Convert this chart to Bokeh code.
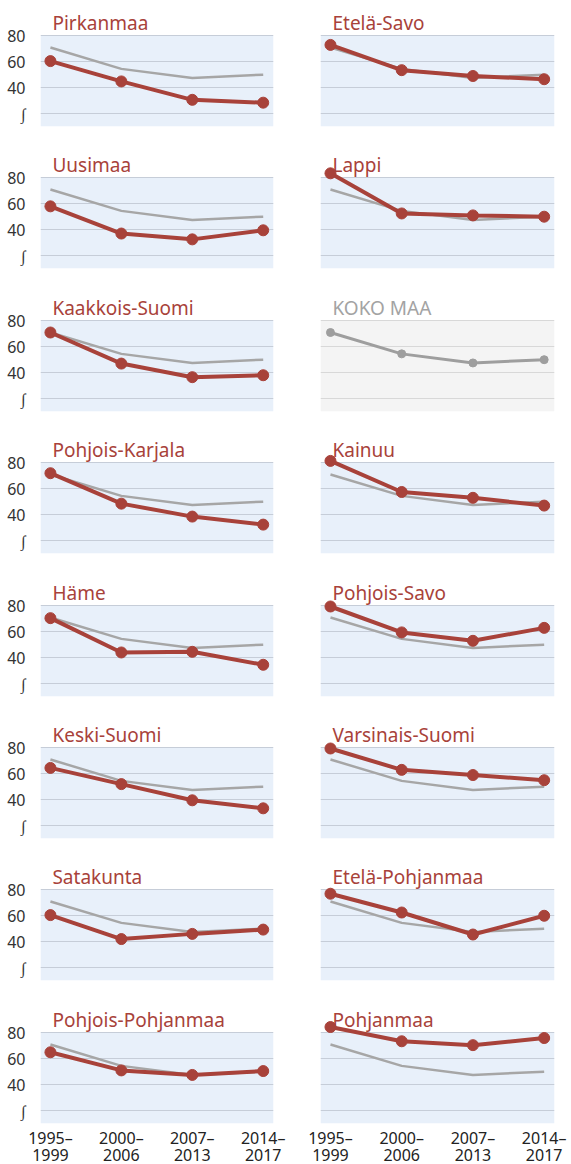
from bokeh.plotting import figure
from bokeh.layouts import gridplot
from bokeh.models import Range1d, FixedTicker, BoxAnnotation, Label
from bokeh.embed import file_html
from bokeh.resources import INLINE

# ---- data ----
periods = ["1995–\n1999", "2000–\n2006", "2007–\n2013", "2014–\n2017"]
koko_maa = [71, 54.5, 47.5, 50]

left_names = ["Pirkanmaa", "Uusimaa", "Kaakkois-Suomi", "Pohjois-Karjala",
              "Häme", "Keski-Suomi", "Satakunta", "Pohjois-Pohjanmaa"]
right_names = ["Etelä-Savo", "Lappi", "KOKO MAA", "Kainuu",
               "Pohjois-Savo", "Varsinais-Suomi", "Etelä-Pohjanmaa", "Pohjanmaa"]

pirkanmaa = [60.5, 44.8, 30.6, 28.4]
uusimaa = [58, 37, 32.5, 39.5]
kaakkois_suomi = [71, 47, 36.5, 38]
pohjois_karjala = [72, 48.5, 38.5, 32.3]
hame = [70.5, 44, 44.5, 34.5]
keski_suomi = [64.5, 52, 39.5, 33.3]
satakunta = [60.5, 42, 46, 49.3]
pohjois_pohjanmaa = [65, 51, 47.5, 50.5]

etela_savo = [73, 53.5, 49, 46.5]
lappi = [83.5, 52.5, 51, 50]
kainuu = [81.5, 57.5, 53, 47]
pohjois_savo = [79.5, 59.5, 53, 63]
varsinais_suomi = [79.5, 63, 59, 55]
etela_pohjanmaa = [77, 62.5, 45.5, 60]
pohjanmaa = [84.5, 73.5, 70.5, 76]

left_vals = [pirkanmaa, uusimaa, kaakkois_suomi, pohjois_karjala,
             hame, keski_suomi, satakunta, pohjois_pohjanmaa]
right_vals = [etela_savo, lappi, None, kainuu,
              pohjois_savo, varsinais_suomi, etela_pohjanmaa, pohjanmaa]

y_ticks = [20, 40, 60, 80]
y_labels = {20: "∫", 40: "40", 60: "60", 80: "80"}

# ---- style ----
FONT = "Noto Sans"
RED = "#A8423A"
GRAY = "#A6A6A6"
BG = "#E8F0FA"
GRID = "#C6CDD8"
BG_NAT = "#F4F4F4"
GRID_NAT = "#D8D8D8"

xs = list(range(len(periods)))
ROW_H = [142, 143, 142, 143, 142, 142, 143]
FRAME_H = 126
PX_PER_UNIT = 1.295
Y_TOP = 10 + FRAME_H / PX_PER_UNIT
TITLE_Y = 80 + 13 / PX_PER_UNIT


def make(name, vals, col, row):
    last = row == 7
    left = col == 0
    national = vals is None
    fw = 233 if left else 234
    bl = 40 if left else 30
    br = 17
    bb = 41 if last else ROW_H[row] - FRAME_H
    p = figure(frame_width=fw, frame_height=FRAME_H,
               x_range=Range1d(-0.14, 3.145), y_range=Range1d(10, Y_TOP),
               output_backend="svg", toolbar_location=None,
               min_border_left=bl, min_border_right=br,
               min_border_top=0, min_border_bottom=bb,
               outline_line_color=None, background_fill_color="white",
               border_fill_color="white")
    p.add_layout(BoxAnnotation(bottom=10, top=80,
                               fill_color=BG_NAT if national else BG,
                               fill_alpha=1, line_color=None, level="image"))
    p.xgrid.visible = False
    p.ygrid.ticker = FixedTicker(ticks=y_ticks)
    p.ygrid.grid_line_color = GRID_NAT if national else GRID
    p.ygrid.grid_line_width = 1

    ax = p.yaxis[0]
    if left:
        ax.ticker = FixedTicker(ticks=y_ticks)
        ax.major_label_overrides = y_labels
        ax.axis_line_color = None
        ax.major_tick_line_color = None
        ax.minor_tick_line_color = None
        ax.major_label_standoff = 9
        ax.major_label_text_font = FONT
        ax.major_label_text_font_size = "16px"
        ax.major_label_text_color = "#333333"
    else:
        ax.visible = False

    xa = p.xaxis[0]
    if last:
        xa.ticker = FixedTicker(ticks=xs)
        xa.major_label_overrides = {i: periods[i] for i in xs}
        xa.axis_line_color = None
        xa.major_tick_line_color = None
        xa.minor_tick_line_color = None
        xa.major_label_standoff = -3
        xa.major_label_text_font = FONT
        xa.major_label_text_font_size = "16px"
        xa.major_label_text_line_height = 0.8
        xa.major_label_text_color = "#222222"
    else:
        xa.visible = False

    p.add_layout(Label(x=0, y=TITLE_Y, x_offset=2, text=name,
                       text_font=FONT, text_font_size="19px",
                       text_color="#A3A3A3" if national else RED,
                       text_baseline="alphabetic", level="underlay"))

    if national:
        p.line(xs, koko_maa, line_color="#9E9E9E", line_width=3)
        p.scatter(xs, koko_maa, size=8, color="#9E9E9E")
    else:
        p.line(xs, koko_maa, line_color=GRAY, line_width=2.5)
        p.line(xs, vals, line_color=RED, line_width=4)
        p.scatter(xs, vals, size=11, color=RED)
    return p


rows = []
for r in range(8):
    rows.append([make(left_names[r], left_vals[r], 0, r),
                 make(right_names[r], right_vals[r], 1, r)])

grid = gridplot(rows, toolbar_location=None)
open("out.html", "w").write(file_html(grid, INLINE))
